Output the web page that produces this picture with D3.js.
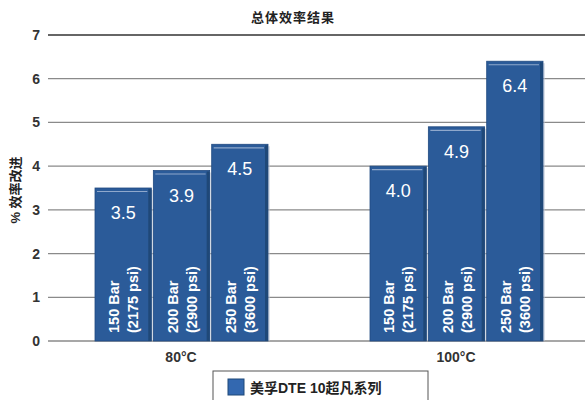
<!DOCTYPE html>
<html>
<head>
<meta charset="utf-8">
<script src="https://cdn.jsdelivr.net/npm/d3@7"></script>
<style>
body { margin:0; background:#fff; }
svg text { font-family: "Liberation Sans", "Noto Sans CJK SC", sans-serif; }
</style>
</head>
<body>
<svg id="chart" width="585" height="400"></svg>
<script>
// chart data
var groups = ["80°C", "100°C"];
var pressures = ["150 Bar", "200 Bar", "250 Bar"];
var psi = ["(2175 psi)", "(2900 psi)", "(3600 psi)"];
var values_80 = [3.5, 3.9, 4.5];
var values_100 = [4.0, 4.9, 6.4];
var y_ticks = [0, 1, 2, 3, 4, 5, 6, 7];
var title = "总体效率结果";
var y_label = "% 效率改进";
var legend_label = "美孚DTE 10超凡系列";

var bar_color = "#2b5b99";
var svg = d3.select("#chart");

var y = d3.scaleLinear().domain([0, 7]).range([341, 35]);
// group offsets: one step per temperature
var x0 = d3.scaleBand().domain(groups).range([95, 645]);
// inner band for the three pressures
var x1 = d3.scaleBand().domain(pressures).range([0, 173]).paddingInner(0.035);

// gridlines
svg.append("g").selectAll("line").data(y_ticks).enter().append("line")
    .attr("x1", 48).attr("x2", 585)
    .attr("y1", function(d) { return y(d); })
    .attr("y2", function(d) { return y(d); })
    .attr("stroke", function(d) { return d == 7 ? "#333" : "#8a8a8a"; })
    .attr("stroke-width", 1.3);

// tick labels
svg.append("g").selectAll("text").data(y_ticks).enter().append("text")
    .attr("x", 40).attr("y", function(d) { return y(d); })
    .attr("dy", "0.36em").attr("text-anchor", "end")
    .attr("font-size", 14).attr("font-weight", "bold").attr("fill", "#333")
    .text(function(d) { return d; });

var data = [];
groups.forEach(function(g, gi) {
    var vals = gi == 0 ? values_80 : values_100;
    pressures.forEach(function(p, i) {
        data.push({group: g, pressure: p, psi: psi[i], value: vals[i]});
    });
});

var bars = svg.append("g").selectAll("g").data(data).enter().append("g")
    .attr("transform", function(d) { return "translate(" + (x0(d.group) + x1(d.pressure)) + ",0)"; });

var bw = x1.bandwidth();

// shadow
bars.append("rect")
    .attr("x", 2).attr("y", function(d) { return y(d.value) + 2; })
    .attr("width", bw).attr("height", function(d) { return y(0) - y(d.value) - 2; })
    .attr("fill", "#b9c3d3").attr("opacity", 0.5);

bars.append("rect")
    .attr("x", 0).attr("y", function(d) { return y(d.value); })
    .attr("width", bw).attr("height", function(d) { return y(0) - y(d.value); })
    .attr("fill", bar_color).attr("stroke", "#214a80").attr("stroke-width", 0.8);

// right edge bevel
bars.append("rect")
    .attr("x", bw - 3).attr("y", function(d) { return y(d.value) + 1; })
    .attr("width", 3).attr("height", function(d) { return y(0) - y(d.value) - 1; })
    .attr("fill", "#1f4878");

// top highlight
bars.append("line")
    .attr("x1", 2).attr("x2", bw - 4)
    .attr("y1", function(d) { return y(d.value) + 3.5; })
    .attr("y2", function(d) { return y(d.value) + 3.5; })
    .attr("stroke", "#8fa8cc").attr("stroke-width", 1.2);

// value labels
bars.append("text")
    .attr("x", bw / 2).attr("y", function(d) { return y(d.value) + 31; })
    .attr("text-anchor", "middle").attr("font-size", 18).attr("fill", "#fff")
    .text(function(d) { return d.value.toFixed(1); });

// rotated pressure labels
bars.append("text")
    .attr("transform", "translate(" + (bw / 2 - 4) + ",333) rotate(-90)")
    .attr("font-size", 14.5).attr("font-weight", "bold").attr("fill", "#fff")
    .text(function(d) { return d.pressure; });
bars.append("text")
    .attr("transform", "translate(" + (bw / 2 + 15) + ",333) rotate(-90)")
    .attr("font-size", 14.5).attr("font-weight", "bold").attr("fill", "#fff")
    .text(function(d) { return d.psi; });

// group labels
svg.append("g").selectAll("text").data(groups).enter().append("text")
    .attr("x", function(g) { return x0(g) + 86; })
    .attr("y", 362).attr("text-anchor", "middle")
    .attr("font-size", 14).attr("font-weight", "bold").attr("fill", "#333")
    .text(function(g) { return g; });

// title
svg.append("text").attr("x", 293).attr("y", 22).attr("text-anchor", "middle")
    .attr("font-size", 13).attr("font-weight", "bold").attr("fill", "#222")
    .attr("letter-spacing", 1)
    .text(title);

// y axis label
svg.append("text").attr("transform", "translate(20,190) rotate(-90)")
    .attr("text-anchor", "middle").attr("font-size", 13).attr("font-weight", "bold")
    .attr("fill", "#222").text(y_label);

// legend
var legend = svg.append("g").attr("transform", "translate(213,371)");
legend.append("rect").attr("x", 0).attr("y", 0).attr("width", 215).attr("height", 40)
    .attr("fill", "#fff").attr("stroke", "#555").attr("stroke-width", 1);
legend.append("rect").attr("x", 15).attr("y", 8).attr("width", 16).attr("height", 16)
    .attr("fill", "#3368b0").attr("stroke", "#1f4878");
legend.append("text").attr("x", 37).attr("y", 22)
    .attr("font-size", 14).attr("font-weight", "bold").attr("fill", "#222")
    .text(legend_label);
</script>
</body>
</html>
